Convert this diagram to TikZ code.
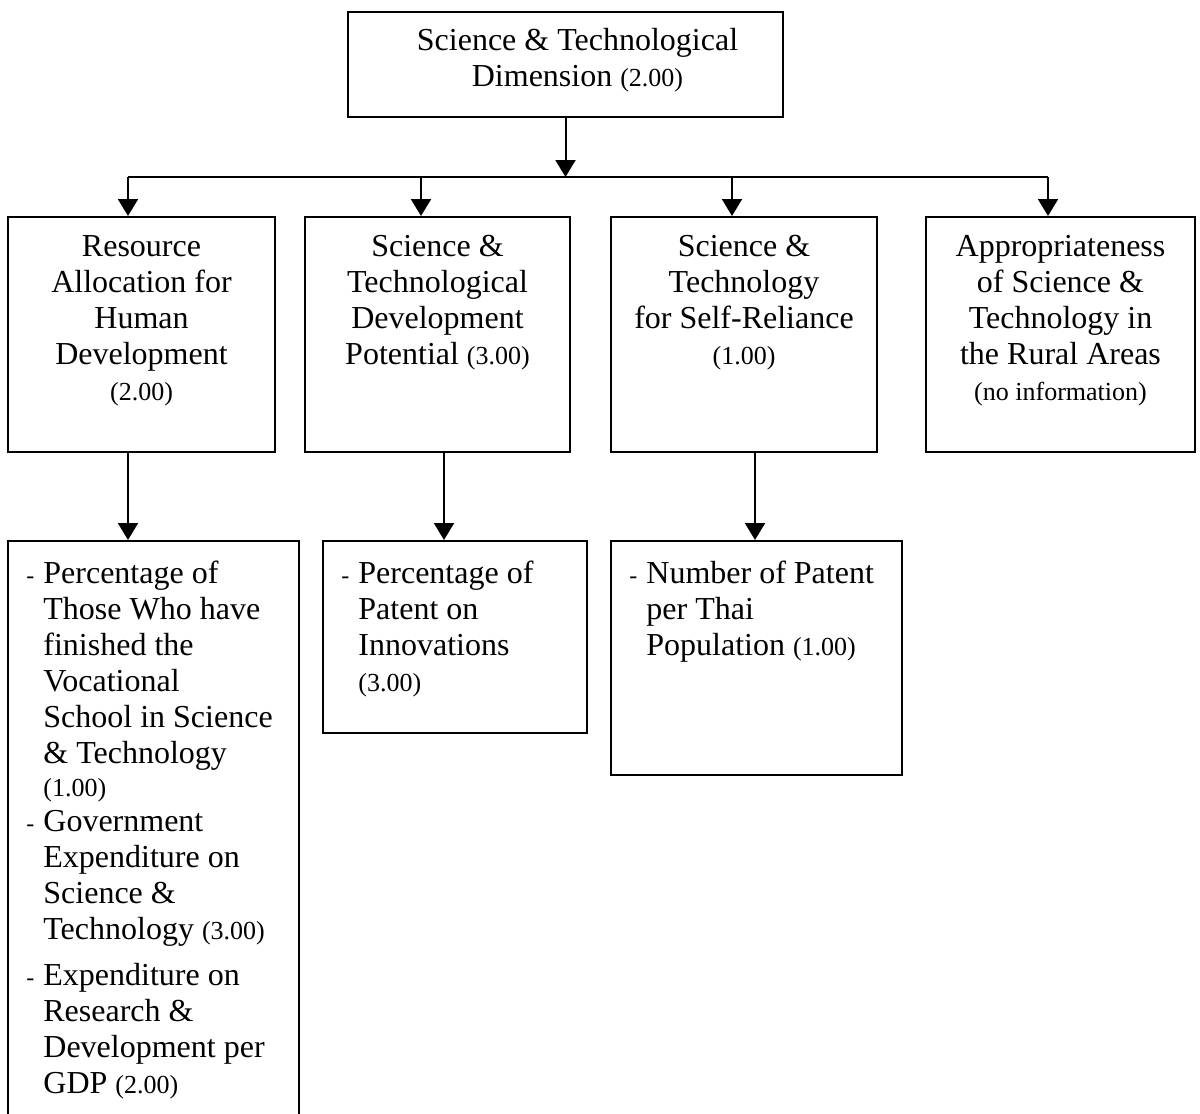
\documentclass[tikz,border=0pt]{standalone}
\usepackage{fontspec}
\setmainfont{Liberation Serif}
\usetikzlibrary{arrows.meta,positioning}
\newcommand{\wt}[1]{{\fontsize{13}{15}\selectfont #1}}
\newcommand{\dsh}{\llap{{\fontsize{12}{14}\selectfont -}\hspace{4.5pt}}}
\tikzset{
	box/.style={draw, line width=1pt, inner sep=0pt},
	hd/.style={align=center, inner sep=0pt, font=\fontsize{16}{18}\selectfont},
	lst/.style={align=left, inner sep=0pt, font=\fontsize{16}{18}\selectfont},
	arr/.style={line width=1pt, -{Triangle[width=10pt,length=8.5pt]}},
	bus/.style={line width=1pt},
}
\begin{document}
\begin{tikzpicture}[x=0.5pt, y=-0.5pt]
				\useasboundingbox (0,0) rectangle (1200,1114);
				\clip (0,0) rectangle (1200,1114);
				% boxes
				\node[box, minimum width=217.5pt, minimum height=52.5pt] at (565.5,64.5) (top) {};
				\node[box, minimum width=133.5pt, minimum height=117.5pt] at (141.5,334.5) (b1) {};
				\node[box, minimum width=132.5pt, minimum height=117.5pt] at (437.5,334.5) (b2) {};
				\node[box, minimum width=133pt, minimum height=117.5pt] at (744,334.5) (b3) {};
				\node[box, minimum width=134.5pt, minimum height=117.5pt] at (1060.5,334.5) (b4) {};
				\node[box, minimum width=145.5pt, minimum height=299.5pt] at (153.5,840.5) (b5) {};
				\node[box, minimum width=132pt, minimum height=96pt] at (455,637) (b6) {};
				\node[box, minimum width=145.5pt, minimum height=117pt] at (756.5,658) (b7) {};
				% texts
				\node[hd, anchor=north] at ([xshift=6pt,yshift=-8.5pt]top.north) (t0) {Science \& Technological\\Dimension \wt{(2.00)}};
				\node[hd, anchor=north] at ([yshift=-9.5pt]b1.north) (t1) {Resource\\Allocation for\\Human\\Development\\\wt{(2.00)}};
				\node[hd, anchor=north] at ([yshift=-9.5pt]b2.north) (t2) {Science \&\\Technological\\Development\\Potential \wt{(3.00)}};
				\node[hd, anchor=north] at ([yshift=-9.5pt]b3.north) (t3) {Science \&\\Technology\\for Self-Reliance\\\wt{(1.00)}};
				\node[hd, anchor=north] at ([yshift=-9.5pt]b4.north) (t4) {Appropriateness\\of Science \&\\Technology in\\the Rural Areas\\\wt{(no information)}};
				\node[lst, anchor=north west] at ([xshift=18pt,yshift=-10.5pt]b5.north west) (t5) {\dsh Percentage of\\Those Who have\\finished the\\Vocational\\School in Science\\\& Technology\\[-1.5pt]\wt{(1.00)}\\[-0.5pt]\dsh Government\\Expenditure on\\Science \&\\Technology \wt{(3.00)}\\[5pt]\dsh Expenditure on\\Research \&\\Development per\\GDP \wt{(2.00)}};
				\node[lst, anchor=north west] at ([xshift=18pt,yshift=-10.5pt]b6.north west) (t6) {\dsh Percentage of\\Patent on\\Innovations\\\wt{(3.00)}};
				\node[lst, anchor=north west] at ([xshift=18pt,yshift=-10.5pt]b7.north west) (t7) {\dsh Number of Patent\\per Thai\\Population \wt{(1.00)}};
				% connectors
				\coordinate (j1) at (128,177);
				\coordinate (j2) at (421,177);
				\coordinate (j3) at (732,177);
				\coordinate (j4) at (1048,177);
				\coordinate (d2) at (444,0);
				\coordinate (d3) at (755,0);
				\draw[arr] (top.south) -- (top.south |- j1);
				\draw[bus] (j1) -- (j4);
				\foreach \j/\b in {j1/b1, j2/b2, j3/b3, j4/b4}
					\draw[arr] (\j) -- (\j |- \b.north);
				\draw[arr] (b1.south -| j1) -- (b5.north -| j1);
				\draw[arr] (b2.south -| d2) -- (b6.north -| d2);
				\draw[arr] (b3.south -| d3) -- (b7.north -| d3);
			\end{tikzpicture}
\end{document}
